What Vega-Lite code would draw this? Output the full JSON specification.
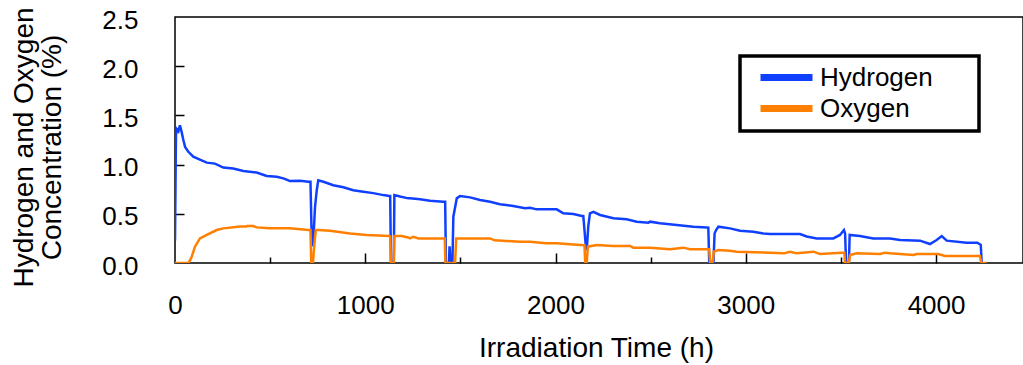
{
  "$schema": "https://vega.github.io/schema/vega-lite/v6.json",
  "width": 848,
  "height": 246,
  "autosize": {"type": "none"},
  "padding": {"left": 175, "top": 17, "right": 0, "bottom": 102},
  "background": "white",
  "config": {
    "view": {"stroke": "black", "strokeWidth": 1.5},
    "font": "Liberation Sans",
    "axis": {"labelFont": "Liberation Sans", "titleFont": "Liberation Sans", "labelColor": "black", "titleColor": "black", "titleFontWeight": "normal", "grid": false, "domain": false, "tickColor": "black", "tickWidth": 1.5}
  },
  "datasets": {
    "h2": [
      {"t":0,"c":0.23},{"t":5,"c":1.30},{"t":10,"c":1.36},{"t":18,"c":1.34},{"t":26,"c":1.40},{"t":35,"c":1.33},{"t":44,"c":1.25},{"t":53,"c":1.18},{"t":70,"c":1.13},{"t":96,"c":1.08},{"t":131,"c":1.05},{"t":167,"c":1.02},{"t":210,"c":1.01},{"t":254,"c":0.97},{"t":306,"c":0.96},{"t":359,"c":0.935},{"t":429,"c":0.92},{"t":482,"c":0.884},{"t":535,"c":0.877},{"t":569,"c":0.86},{"t":596,"c":0.84},{"t":604,"c":0.833},{"t":657,"c":0.836},{"t":701,"c":0.826},{"t":712,"c":0.826},{"t":718,"c":0.3},{"t":724,"c":0.17},{"t":730,"c":0.35},{"t":736,"c":0.57},{"t":745,"c":0.74},{"t":753,"c":0.84},{"t":780,"c":0.826},{"t":832,"c":0.79},{"t":885,"c":0.77},{"t":937,"c":0.74},{"t":990,"c":0.725},{"t":1042,"c":0.71},{"t":1095,"c":0.69},{"t":1127,"c":0.68},{"t":1131,"c":0.68},{"t":1135,"c":0.02},{"t":1145,"c":0.0},{"t":1150,"c":0.0},{"t":1153,"c":0.69},{"t":1183,"c":0.675},{"t":1226,"c":0.657},{"t":1235,"c":0.657},{"t":1288,"c":0.647},{"t":1340,"c":0.633},{"t":1410,"c":0.623},{"t":1420,"c":0.623},{"t":1424,"c":0.0},{"t":1440,"c":0.0},{"t":1443,"c":0.17},{"t":1448,"c":0.0},{"t":1458,"c":0.0},{"t":1463,"c":0.47},{"t":1481,"c":0.657},{"t":1498,"c":0.68},{"t":1551,"c":0.667},{"t":1603,"c":0.64},{"t":1656,"c":0.623},{"t":1708,"c":0.597},{"t":1778,"c":0.58},{"t":1840,"c":0.556},{"t":1866,"c":0.562},{"t":1901,"c":0.545},{"t":2006,"c":0.545},{"t":2041,"c":0.505},{"t":2094,"c":0.498},{"t":2138,"c":0.478},{"t":2146,"c":0.478},{"t":2158,"c":0.2},{"t":2164,"c":0.13},{"t":2172,"c":0.37},{"t":2181,"c":0.505},{"t":2199,"c":0.52},{"t":2234,"c":0.488},{"t":2304,"c":0.454},{"t":2374,"c":0.444},{"t":2427,"c":0.42},{"t":2488,"c":0.41},{"t":2497,"c":0.42},{"t":2549,"c":0.403},{"t":2637,"c":0.386},{"t":2724,"c":0.369},{"t":2795,"c":0.362},{"t":2803,"c":0.36},{"t":2808,"c":0.0},{"t":2830,"c":0.0},{"t":2836,"c":0.3},{"t":2844,"c":0.335},{"t":2856,"c":0.369},{"t":2917,"c":0.352},{"t":2970,"c":0.328},{"t":3040,"c":0.318},{"t":3092,"c":0.30},{"t":3127,"c":0.295},{"t":3285,"c":0.295},{"t":3320,"c":0.27},{"t":3373,"c":0.25},{"t":3460,"c":0.25},{"t":3495,"c":0.285},{"t":3516,"c":0.335},{"t":3522,"c":0.30},{"t":3527,"c":0.0},{"t":3542,"c":0.0},{"t":3546,"c":0.285},{"t":3600,"c":0.274},{"t":3670,"c":0.25},{"t":3758,"c":0.25},{"t":3811,"c":0.234},{"t":3916,"c":0.227},{"t":3968,"c":0.193},{"t":4003,"c":0.234},{"t":4030,"c":0.274},{"t":4056,"c":0.227},{"t":4161,"c":0.206},{"t":4217,"c":0.206},{"t":4230,"c":0.19},{"t":4235,"c":0.183},{"t":4240,"c":0.0}
    ],
    "o2": [
      {"t":0,"c":0.0},{"t":70,"c":0.0},{"t":80,"c":0.03},{"t":88,"c":0.064},{"t":105,"c":0.166},{"t":131,"c":0.25},{"t":167,"c":0.285},{"t":219,"c":0.335},{"t":254,"c":0.352},{"t":342,"c":0.37},{"t":375,"c":0.37},{"t":380,"c":0.376},{"t":412,"c":0.376},{"t":429,"c":0.362},{"t":499,"c":0.352},{"t":604,"c":0.352},{"t":701,"c":0.335},{"t":712,"c":0.335},{"t":716,"c":0.0},{"t":725,"c":0.0},{"t":733,"c":0.2},{"t":740,"c":0.335},{"t":753,"c":0.335},{"t":815,"c":0.328},{"t":920,"c":0.30},{"t":1007,"c":0.285},{"t":1127,"c":0.274},{"t":1131,"c":0.27},{"t":1135,"c":0.0},{"t":1150,"c":0.0},{"t":1153,"c":0.274},{"t":1190,"c":0.274},{"t":1226,"c":0.26},{"t":1235,"c":0.25},{"t":1253,"c":0.267},{"t":1280,"c":0.25},{"t":1340,"c":0.25},{"t":1410,"c":0.25},{"t":1418,"c":0.25},{"t":1421,"c":0.0},{"t":1472,"c":0.0},{"t":1478,"c":0.25},{"t":1586,"c":0.25},{"t":1656,"c":0.25},{"t":1680,"c":0.23},{"t":1813,"c":0.217},{"t":1866,"c":0.217},{"t":1950,"c":0.2},{"t":2006,"c":0.2},{"t":2129,"c":0.183},{"t":2152,"c":0.18},{"t":2156,"c":0.0},{"t":2164,"c":0.0},{"t":2170,"c":0.166},{"t":2216,"c":0.183},{"t":2304,"c":0.173},{"t":2392,"c":0.173},{"t":2409,"c":0.156},{"t":2497,"c":0.156},{"t":2602,"c":0.139},{"t":2672,"c":0.156},{"t":2707,"c":0.139},{"t":2808,"c":0.139},{"t":2813,"c":0.0},{"t":2825,"c":0.0},{"t":2832,"c":0.115},{"t":2856,"c":0.132},{"t":2917,"c":0.125},{"t":2952,"c":0.115},{"t":3127,"c":0.105},{"t":3200,"c":0.098},{"t":3233,"c":0.115},{"t":3268,"c":0.098},{"t":3355,"c":0.115},{"t":3390,"c":0.091},{"t":3504,"c":0.105},{"t":3518,"c":0.105},{"t":3522,"c":0.0},{"t":3542,"c":0.0},{"t":3548,"c":0.081},{"t":3583,"c":0.098},{"t":3706,"c":0.091},{"t":3732,"c":0.105},{"t":3758,"c":0.098},{"t":3881,"c":0.081},{"t":3899,"c":0.091},{"t":4012,"c":0.091},{"t":4047,"c":0.071},{"t":4231,"c":0.071},{"t":4238,"c":0.0},{"t":4265,"c":0.0}
    ]
  },
  "resolve": {"axis": {"x": "independent", "y": "independent"}},
  "layer": [
    {
      "data": {"name": "h2"},
      "transform": [{"calculate": "'Hydrogen'", "as": "gas"}],
      "mark": {"type": "line", "strokeWidth": 2.5, "clip": true},
      "encoding": {
        "x": {
          "field": "t", "type": "quantitative",
          "scale": {"domain": [0, 4457], "nice": false, "zero": false},
          "axis": {
            "values": [0, 1000, 2000, 3000, 4000],
            "format": "d",
            "ticks": false,
            "labelPadding": 29,
            "labelFontSize": 26,
            "labelFlush": false,
            "labelOverlap": false,
            "labelBound": false,
            "title": "Irradiation Time (h)",
            "titleFontSize": 28,
            "titleX": 421,
            "titleY": 93,
            "titleBaseline": "alphabetic",
            "titleAlign": "center",
            "titleAnchor": "start"
          }
        },
        "y": {
          "field": "c", "type": "quantitative",
          "scale": {"domain": [0, 2.5], "nice": false},
          "axis": {
            "values": [0, 0.5, 1, 1.5, 2, 2.5],
            "format": ".1f",
            "ticks": false,
            "labelPadding": 37,
            "labelOffset": 3,
            "labelFontSize": 26,
            "labelFlush": false,
            "labelOverlap": false,
            "labelBound": false,
            "title": ["Hydrogen and Oxygen", "Concentration (%)"],
            "titleFontSize": 28,
            "titleLineHeight": 28,
            "titleAngle": -90,
            "titleBaseline": "top",
            "titleAlign": "center",
            "titleX": -165,
            "titleY": 130
          }
        },
        "color": {
          "field": "gas", "type": "nominal",
          "scale": {"domain": ["Hydrogen", "Oxygen"], "range": ["#1040FF", "#FF8000"]},
          "legend": {
            "title": null,
            "orient": "none",
            "legendX": 565,
            "legendY": 39,
            "direction": "vertical",
            "strokeColor": "black",
            "fillColor": "white",
            "padding": 8,
            "symbolType": "M-2.6,0H2.6M17,0",
            "symbolSize": 400,
            "symbolStrokeWidth": 7,
            "symbolOffset": 25,
            "labelFontSize": 26,
            "labelFont": "Liberation Sans",
            "labelColor": "black",
            "labelOffset": 20,
            "rowPadding": 2,
            "encode": {"legend": {"update": {"strokeWidth": {"value": 3.5}}}}
          }
        }
      }
    },
    {
      "data": {"name": "o2"},
      "transform": [{"calculate": "'Oxygen'", "as": "gas"}],
      "mark": {"type": "line", "strokeWidth": 2.5, "clip": true},
      "encoding": {
        "x": {
          "field": "t", "type": "quantitative",
          "scale": {"domain": [0, 4457], "nice": false, "zero": false},
          "axis": {
            "orient": "top",
            "offset": -246,
            "values": [500, 1000, 1500, 2000, 2500, 3000, 3500, 4000],
            "labels": false,
            "title": null,
            "ticks": true,
            "tickColor": "black",
            "tickWidth": 1.5,
            "tickSize": {"condition": {"test": "datum.value % 1000 === 0", "value": 10}, "value": 6}
          }
        },
        "y": {
          "field": "c", "type": "quantitative",
          "scale": {"domain": [0, 2.5], "nice": false},
          "axis": {
            "orient": "right",
            "offset": -848,
            "values": [0.5, 1, 1.5, 2],
            "labels": false,
            "title": null,
            "ticks": true,
            "tickColor": "black",
            "tickWidth": 1.5,
            "tickSize": 9
          }
        },
        "color": {"field": "gas", "type": "nominal"}
      }
    }
  ]
}
